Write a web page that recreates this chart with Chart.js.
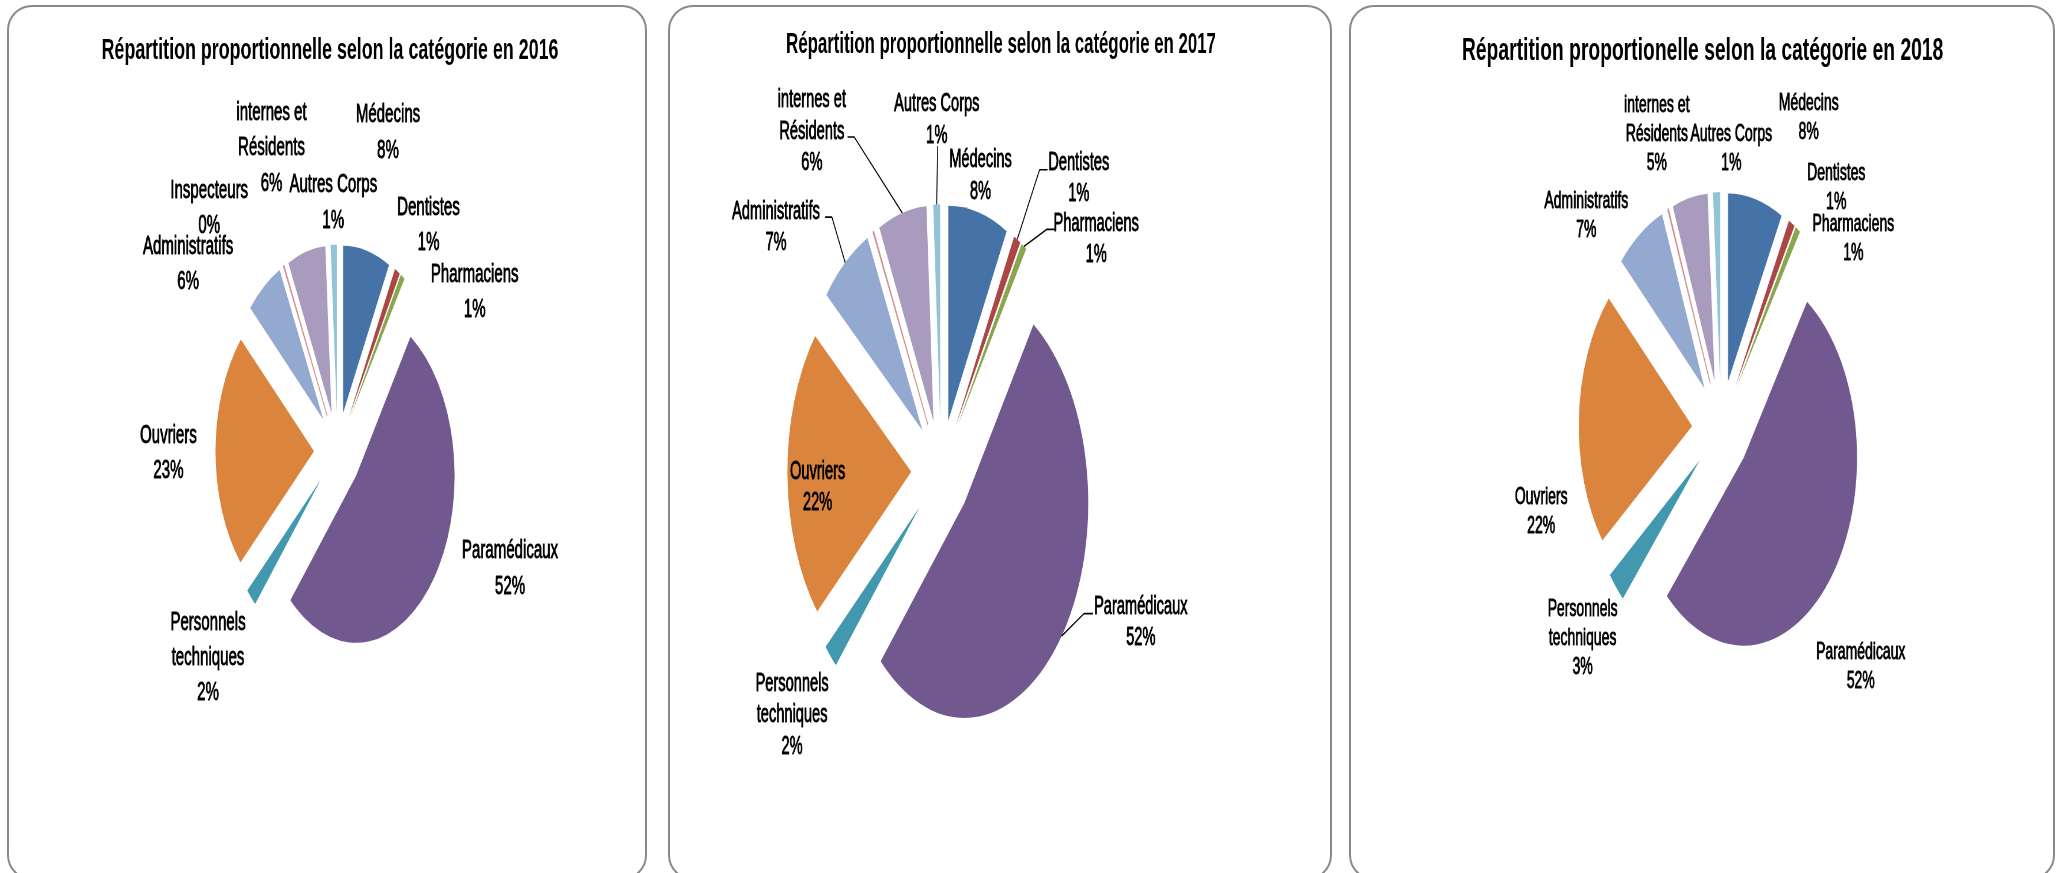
<!DOCTYPE html>
<html>
<head>
<meta charset="utf-8">
<script src="https://cdn.jsdelivr.net/npm/chart.js@4.4.1/dist/chart.umd.min.js"></script>
<style>
  html, body { margin:0; padding:0; background:#fff; width:2062px; height:873px; overflow:hidden; position:relative; }
  .panel { position:absolute; box-sizing:border-box; border:2px solid #8a8a8a; border-radius:25px; background:#fff; }
  .wrap { position:absolute; top:0; transform-origin:0 0; }
  .wrap canvas { display:block; }
</style>
</head>
<body>
<div class="panel" style="left:7px;top:5px;width:640px;height:875px"></div>
<div class="panel" style="left:668px;top:5px;width:664px;height:875px"></div>
<div class="panel" style="left:1349px;top:5px;width:706px;height:875px"></div>
<div class="wrap" id="w1"><canvas id="c1"></canvas></div>
<div class="wrap" id="w2"><canvas id="c2"></canvas></div>
<div class="wrap" id="w3"><canvas id="c3"></canvas></div>
<script>
// ---------- data ----------
const categories = ['Médecins', 'Dentistes', 'Pharmaciens', 'Paramédicaux', ['Personnels', 'techniques'],
  'Ouvriers', 'Administratifs', 'Inspecteurs', ['internes et', 'Résidents'], 'Autres Corps'];
const values2016 = [7.7, 0.9, 0.7, 52.2, 1.8, 23.2, 6.0, 0.1, 6.2, 1.0];
const values2017 = [7.8, 0.9, 0.7, 52.3, 1.9, 22.1, 6.8, 0.1, 6.3, 0.9];
const values2018 = [7.8, 0.9, 0.7, 52.2, 2.7, 22.2, 7.0, 0.1, 5.0, 1.0];
const titles = [
  'Répartition proportionnelle selon la catégorie en 2016',
  'Répartition proportionnelle selon la catégorie en 2017',
  'Répartition proportionelle selon la catégorie en 2018'
];

// ---------- styles ----------
const FONT = '"Liberation Sans", Arial, sans-serif';
const sliceColors = ['#4572A7', '#AA4643', '#89A54E', '#71588F', '#4198AF', '#DB843D',
  '#93A9CF', '#D19392', '#A99BBD', '#92C4D6'];
const borderColors = sliceColors.map(c => c);
const borderWidths = [0, 0, 0, 0, 0, 0, 0, 1.5, 0, 0];

// ---------- layout (display pixels) ----------
const layouts = [
  { pl: 7, pw: 640, s: 0.59, cx: 337.5, cy: 451.5, R: 167, dist: 39.8,
    tx: 330, ty: 51, ts: 30.3, fs: 25.5, lh: 35.3,
    pos: [[388, 115.3], [428.5, 207.7], [474.7, 274.5], [510, 551.2], [208, 622.5],
          [168.4, 436], [188.1, 246.7], [209.2, 191], [271.5, 113], [333.3, 185.4]],
    leaders: [] },
  { pl: 668, pw: 664, s: 0.576, cx: 941, cy: 471, R: 215, dist: 51.7,
    tx: 1001, ty: 45, ts: 29.2, fs: 25.4, lh: 31.5,
    pos: [[980.5, 160.4], [1078.8, 162.6], [1096.2, 223.8], [1140.8, 606.9], [792.1, 683.7],
          [817.6, 471.6], [776, 211.6], null, [811.8, 100.2], [936.8, 104.1]],
    leaders: [null, [1047.5, 169.8, 1039.5, 169.8], [1055, 229.4, 1046.6, 229.4], [1093, 613.6, 1084, 613.6],
              null, null, [825.2, 217.1, 831.9, 217.1], null, [847.5, 137, 854.2, 137], [937.7, 145.9, 937.7, 145.9]] },
  { pl: 1349, pw: 706, s: 0.603, cx: 1721, cy: 428, R: 188, dist: 47.9,
    tx: 1702.6, ty: 51, ts: 32, fs: 23.2, lh: 29,
    pos: [[1808.7, 103.6], [1836.3, 173.7], [1853.4, 224.4], [1860.7, 652.6], [1582.6, 609.7],
          [1541.2, 497.2], [1586.3, 202.1], null, [1656.8, 105.8], [1731.3, 134.7]],
    leaders: [] }
];

function makeChart(canvasId, values, title, L) {
  const W = Math.round(L.pw / L.s);
  const H = 873;
  const canvas = document.getElementById(canvasId);
  canvas.width = W; canvas.height = H;
  canvas.style.width = W + 'px'; canvas.style.height = H + 'px';
  const wrap = canvas.parentElement;
  wrap.style.left = L.pl + 'px';
  wrap.style.transform = 'scaleX(' + L.s + ')';
  const toU = x => (x - L.pl) / L.s;

  const placePlugin = {
    id: 'place',
    afterLayout(chart) {
      const h = L.R + L.dist + 10;
      const cu = toU(L.cx);
      chart.chartArea = { left: cu - h, right: cu + h, top: L.cy - h, bottom: L.cy + h, width: 2 * h, height: 2 * h };
      const tb = chart.titleBlock;
      if (tb) {
        const lhT = L.ts * 1.2, tu = toU(L.tx);
        tb.left = tu - 700; tb.right = tu + 700; tb.width = 1400;
        tb.top = L.ty - lhT / 2; tb.bottom = L.ty + lhT / 2; tb.height = lhT;
      }
    }
  };
  const explodePlugin = {
    id: 'explode',
    afterDatasetUpdate(chart, args) {
      for (const arc of args.meta.data) {
        const m = (arc.startAngle + arc.endAngle) / 2;
        arc.x += L.dist * Math.cos(m);
        arc.y += L.dist * Math.sin(m);
      }
    }
  };
  const labelPlugin = {
    id: 'sliceLabels',
    afterDatasetsDraw(chart) {
      const ctx = chart.ctx;
      const meta = chart.getDatasetMeta(0);
      const data = chart.data.datasets[0].data;
      const total = data.reduce((a, b) => a + b, 0);
      ctx.save();
      ctx.fillStyle = '#000';
      ctx.strokeStyle = '#000';
      ctx.font = L.fs + 'px ' + FONT;
      ctx.textAlign = 'center';
      ctx.textBaseline = 'middle';
      ctx.lineJoin = 'round';
      meta.data.forEach((arc, i) => {
        const ld = L.leaders[i];
        if (ld) {
          const m = (arc.startAngle + arc.endAngle) / 2;
          const ax = arc.x + arc.outerRadius * Math.cos(m);
          const ay = arc.y + arc.outerRadius * Math.sin(m);
          ctx.lineWidth = 1.6;
          ctx.beginPath();
          ctx.moveTo(toU(ld[0]), ld[1]);
          ctx.lineTo(toU(ld[2]), ld[3]);
          ctx.lineTo(ax, ay);
          ctx.stroke();
        }
        const p = L.pos[i];
        if (!p) return;
        const name = chart.data.labels[i];
        const lines = (Array.isArray(name) ? name.slice() : [name]);
        lines.push(Math.round(data[i] / total * 100) + '%');
        ctx.lineWidth = 0.9;
        lines.forEach((t, j) => {
          const x = toU(p[0]), y = p[1] + j * L.lh;
          ctx.fillText(t, x, y);
          ctx.strokeText(t, x, y);
        });
      });
      ctx.restore();
    }
  };

  return new Chart(canvas, {
    type: 'pie',
    data: {
      labels: categories,
      datasets: [{
        data: values,
        backgroundColor: sliceColors,
        borderColor: borderColors,
        borderWidth: borderWidths,
        borderAlign: 'center',
        radius: L.R,
        offset: 0,
        clip: false
      }]
    },
    options: {
      responsive: false,
      animation: false,
      devicePixelRatio: 1,
      events: [],
      layout: { padding: 0 },
      plugins: {
        legend: { display: false },
        tooltip: { enabled: false },
        title: {
          display: true,
          text: title,
          color: '#000',
          padding: 0,
          font: { family: FONT, size: L.ts, weight: 'bold', lineHeight: 1.2 }
        }
      }
    },
    plugins: [placePlugin, explodePlugin, labelPlugin]
  });
}

makeChart('c1', values2016, titles[0], layouts[0]);
makeChart('c2', values2017, titles[1], layouts[1]);
makeChart('c3', values2018, titles[2], layouts[2]);
</script>
</body>
</html>
